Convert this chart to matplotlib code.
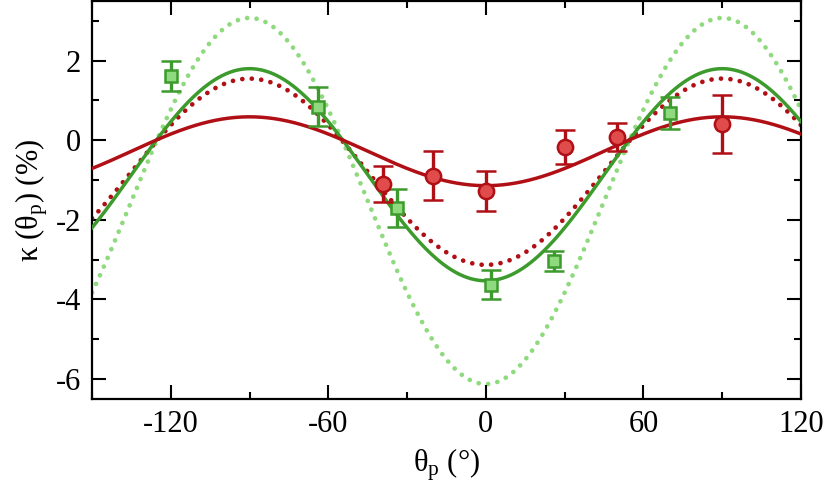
import numpy as np
import matplotlib
matplotlib.use('Agg')
import matplotlib.pyplot as plt
from matplotlib.ticker import MultipleLocator

plt.rcParams['font.family'] = ['Liberation Serif', 'DejaVu Serif']
plt.rcParams['mathtext.fontset'] = 'custom'
plt.rcParams['mathtext.rm'] = 'Liberation Serif'
plt.rcParams['mathtext.it'] = 'Liberation Serif:italic'
plt.rcParams['axes.unicode_minus'] = False

# measured points: red circles
red_theta = [-39, -20, 0, 30, 50, 90]
red_kappa = [-1.10, -0.89, -1.27, -0.16, 0.09, 0.42]
red_err = [0.45, 0.62, 0.50, 0.43, 0.35, 0.73]

# measured points: green squares
green_theta = [-120, -64, -34, 2, 26, 70]
green_kappa = [1.62, 0.84, -1.70, -3.63, -3.03, 0.69]
green_err = [0.38, 0.49, 0.48, 0.37, 0.25, 0.40]

# model curves kappa = offset + amp * cos(2 theta)
red_fit = (-0.275, -0.865)
green_fit = (-0.865, -2.665)
red_model = (-0.79, -2.34)
green_model = (-1.525, -4.6)

dark_red = '#B01015'
red_face = '#E04B4B'
green = '#3C9B2C'
light_green = '#8FD97E'

theta = np.linspace(-150, 120, 541)


def curve(p):
    return p[0] + p[1] * np.cos(np.radians(2 * theta))


fig = plt.figure(figsize=(8.31, 4.86), dpi=100)
ax = fig.add_axes([92 / 831, 87 / 486, 709 / 831, 398 / 486])

dots = (0, (0.01, 2.0))
ax.plot(theta, curve(green_model), color=light_green, lw=3.4, ls=dots,
        dash_capstyle='round', zorder=1)
ax.plot(theta, curve(red_model), color=dark_red, lw=3.4, ls=dots,
        dash_capstyle='round', zorder=2)
ax.plot(theta, curve(green_fit), color=green, lw=2.5, zorder=3)
ax.plot(theta, curve(red_fit), color=dark_red, lw=2.5, zorder=3)

ax.errorbar(green_theta, green_kappa, yerr=green_err, fmt='s', ms=9,
            mfc=light_green, mec=green, mew=1.8, ecolor=green, elinewidth=2.4,
            capsize=7, capthick=2.4, zorder=4)
ax.errorbar(red_theta, red_kappa, yerr=red_err, fmt='o', ms=11,
            mfc=red_face, mec=dark_red, mew=1.8, ecolor=dark_red, elinewidth=2.4,
            capsize=7, capthick=2.4, zorder=5)

ax.set_xlim(-150, 120)
ax.set_ylim(-6.5, 3.5)
ax.set_xticks([-120, -60, 0, 60, 120])
ax.set_yticks([-6, -4, -2, 0, 2])
ax.xaxis.set_minor_locator(MultipleLocator(30))
ax.yaxis.set_minor_locator(MultipleLocator(1))
ax.tick_params(which='both', direction='in', top=True, right=True, width=1.5,
               labelsize=22, pad=8)
ax.tick_params(which='major', length=10)
ax.tick_params(which='minor', length=5)
for s in ax.spines.values():
    s.set_linewidth(1.6)

ax.set_xlabel(r'$\mathregular{\theta_p}$ (°)', fontsize=22, labelpad=5)
ax.set_ylabel(r'$\mathregular{\kappa\ (\theta_p)}$ (%)', fontsize=22, labelpad=4)

fig.savefig('out.png', dpi=100)
